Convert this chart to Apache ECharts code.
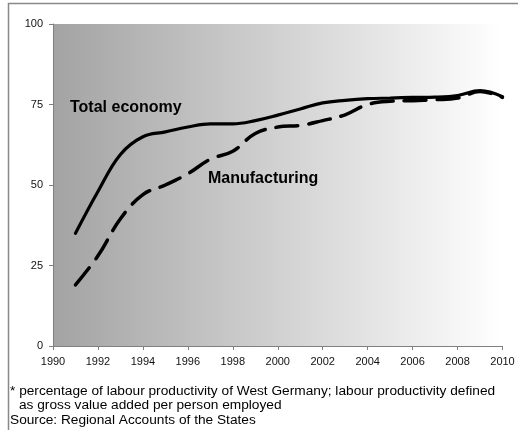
<!DOCTYPE html>
<html>
<head>
<meta charset="utf-8">
<script src="https://cdn.jsdelivr.net/npm/echarts@6/dist/echarts.min.js"></script>
<style>
  html, body { margin: 0; padding: 0; background: #fff; }
  #chart { width: 518px; height: 430px; }
</style>
</head>
<body>
<div id="chart"></div>
<script>
// values, % of West German labour productivity
var years = [1991, 1992, 1993, 1994, 1995, 1996, 1997, 1998, 1999, 2000,
  2001, 2002, 2003, 2004, 2005, 2006, 2007, 2008, 2009, 2010]
var totalEconomy = [35, 48, 59.5, 65, 66.5, 68, 69, 69, 70, 71.7,
  73.6, 75.5, 76.3, 76.8, 77, 77.2, 77.3, 77.8, 79.3, 77.4]
var manufacturing = [19, 28, 39.5, 47, 50, 53.5, 58, 60.5, 66, 68,
  68.5, 70, 71.8, 75, 76, 76.2, 76.5, 77, 79, 77.2]
var yTicks = [0, 25, 50, 75, 100]

var chart = echarts.init(document.getElementById('chart'))

function pairs(vals) {
  return vals.map(function (v, i) { return [years[i], v] })
}

var font = 'Liberation Sans, Arial, sans-serif'

var option = {
  animation: false,
  textStyle: { fontFamily: font },
  grid: {
    left: 53,
    right: 15.5,
    top: 24,
    bottom: 84,
    show: true,
    borderWidth: 0,
    backgroundColor: new echarts.graphic.LinearGradient(0, 0, 1, 0, [
      { offset: 0, color: '#a3a3a3' },
      { offset: 1, color: '#ffffff' }
    ])
  },
  xAxis: {
    type: 'value',
    min: 1990,
    max: 2010,
    interval: 2,
    axisLine: { lineStyle: { color: '#808080', width: 1 } },
    axisTick: { show: true, length: 4, lineStyle: { color: '#808080' } },
    axisLabel: { color: '#111', fontSize: 11, margin: 10, formatter: function (v) { return String(v) } },
    splitLine: { show: false }
  },
  yAxis: {
    type: 'value',
    min: 0,
    max: 100,
    interval: 25,
    axisLine: { show: true, lineStyle: { color: '#808080', width: 1 } },
    axisTick: { show: true, length: 4, lineStyle: { color: '#808080' } },
    axisLabel: {
      color: '#111', fontSize: 11, margin: 10,
      formatter: function (v) { return yTicks.indexOf(v) >= 0 ? String(v) : '' }
    },
    splitLine: { show: false }
  },
  series: [
    {
      name: 'Total economy',
      type: 'line',
      data: pairs(totalEconomy),
      smooth: 0.4,
      showSymbol: false,
      lineStyle: { color: '#000', width: 3.2, cap: 'round' }
    },
    {
      name: 'Manufacturing',
      type: 'line',
      data: pairs(manufacturing),
      smooth: 0.4,
      showSymbol: false,
      lineStyle: { color: '#000', width: 3.5, type: [22, 11], cap: 'round' }
    }
  ],
  graphic: [
    { type: 'line', shape: { x1: 8.5, y1: 3, x2: 8.5, y2: 430 }, style: { stroke: '#888', lineWidth: 1.5 } },
    { type: 'line', shape: { x1: 8, y1: 3.5, x2: 518, y2: 3.5 }, style: { stroke: '#888', lineWidth: 1.5 } },
    { type: 'text', left: 70, top: 100, style: { text: 'Total economy', font: 'bold 16px ' + font, fill: '#000' } },
    { type: 'text', left: 208, top: 171, style: { text: 'Manufacturing', font: 'bold 16px ' + font, fill: '#000' } },
    { type: 'text', left: 10, top: 384, style: { text: '* percentage of labour productivity of West Germany; labour productivity defined', font: '13.7px ' + font, fill: '#000' } },
    { type: 'text', left: 19, top: 398.5, style: { text: 'as gross value added per person employed', font: '13.7px ' + font, fill: '#000' } },
    { type: 'text', left: 10, top: 413, style: { text: 'Source: Regional Accounts of the States', font: '13.7px ' + font, fill: '#000' } }
  ]
}

chart.setOption(option)
</script>
</body>
</html>
